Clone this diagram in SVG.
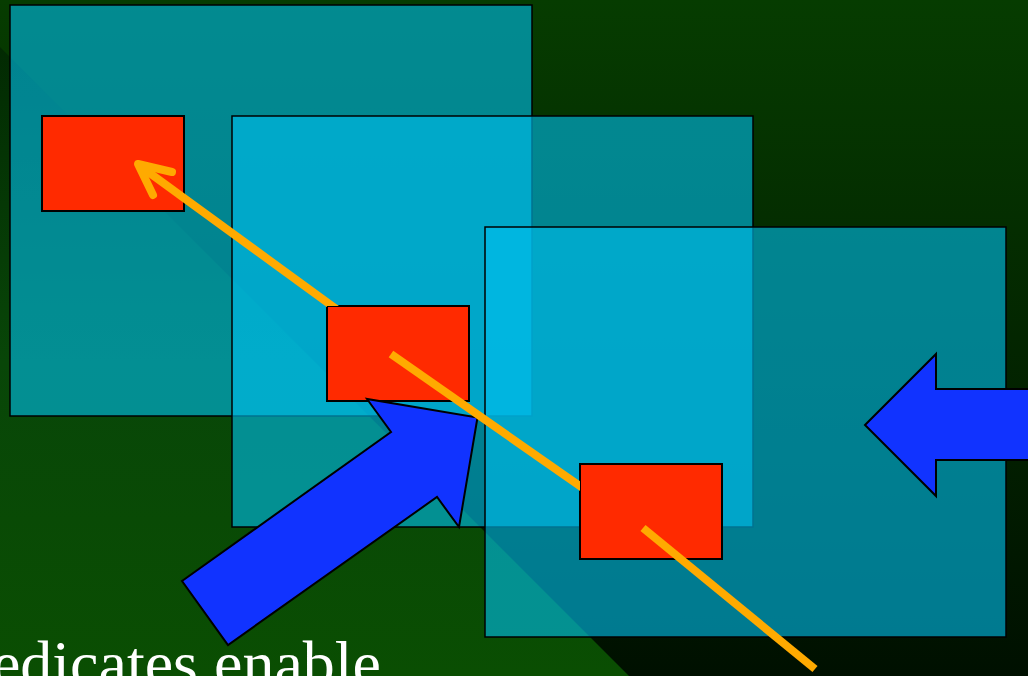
<svg xmlns="http://www.w3.org/2000/svg" width="1028" height="676" viewBox="0 0 1028 676">
<defs>
<linearGradient id="bgTop" gradientUnits="userSpaceOnUse" x1="0" y1="0" x2="0" y2="676">
<stop offset="0" stop-color="#063c00"/>
<stop offset="1" stop-color="#001000"/>
</linearGradient>
<linearGradient id="bgLow" gradientUnits="userSpaceOnUse" x1="0" y1="47" x2="0" y2="676">
<stop offset="0" stop-color="#022a02"/>
<stop offset="0.5" stop-color="#084608"/>
<stop offset="1" stop-color="#0a4e02"/>
</linearGradient>
<mask id="noR2" maskUnits="userSpaceOnUse" x="0" y="0" width="1028" height="676">
<rect x="0" y="0" width="1028" height="676" fill="#fff"/>
<rect x="327" y="306" width="142" height="95" fill="#000"/>
</mask>
<mask id="noR3" maskUnits="userSpaceOnUse" x="0" y="0" width="1028" height="676">
<rect x="0" y="0" width="1028" height="676" fill="#fff"/>
<rect x="580" y="464" width="142" height="95" fill="#000"/>
</mask>
</defs>
<style>
.sq{fill:#00c0f0;fill-opacity:0.6;stroke:#000;stroke-width:1.5}
.red{fill:#ff2a00;stroke:#000;stroke-width:2}
.blue{fill:#1133ff;stroke:#000;stroke-width:2;stroke-linejoin:miter}
.conn{fill:none;stroke:#ffaa00;stroke-width:8}
.lbl{font-family:"Liberation Serif","Times New Roman",serif;font-size:64px;fill:#fff}
</style>
<rect x="0" y="0" width="1028" height="676" fill="url(#bgTop)"/>
<polygon points="0,47 629,676 0,676" fill="url(#bgLow)"/>
<g id="square1"><rect class="sq" x="10" y="5" width="522" height="411"/></g>
<g id="box1"><rect class="red" x="42" y="116" width="142" height="95"/></g>
<g id="square2"><rect class="sq" x="232" y="116" width="521" height="411"/></g>
<g id="square3"><rect class="sq" x="485" y="227" width="521" height="410"/></g>
<g id="box2"><rect class="red" x="327" y="306" width="142" height="95"/></g>
<g id="box3"><rect class="red" x="580" y="464" width="142" height="95"/></g>
<g id="arrowUp"><polygon class="blue" points="182,581 391,432 367,399 477.5,417.5 459,527 437,497 228,645"/></g>
<g id="arrowLeft"><polygon class="blue" points="865,425 936,354 936,389 1040,389 1040,460 936,460 936,496"/></g>
<g id="connectors">
<g mask="url(#noR2)">
<line class="conn" x1="398" y1="354" x2="140" y2="166"/>
<polyline class="conn" points="172,172 138,164 153,195" stroke-linecap="round" stroke-linejoin="round"/>
</g>
<line class="conn" mask="url(#noR3)" x1="391" y1="354" x2="640" y2="528"/>
<line class="conn" x1="643" y1="528" x2="815" y2="669"/>
</g>
<text class="lbl" x="381" y="685" text-anchor="end">edicates enable</text>
</svg>
